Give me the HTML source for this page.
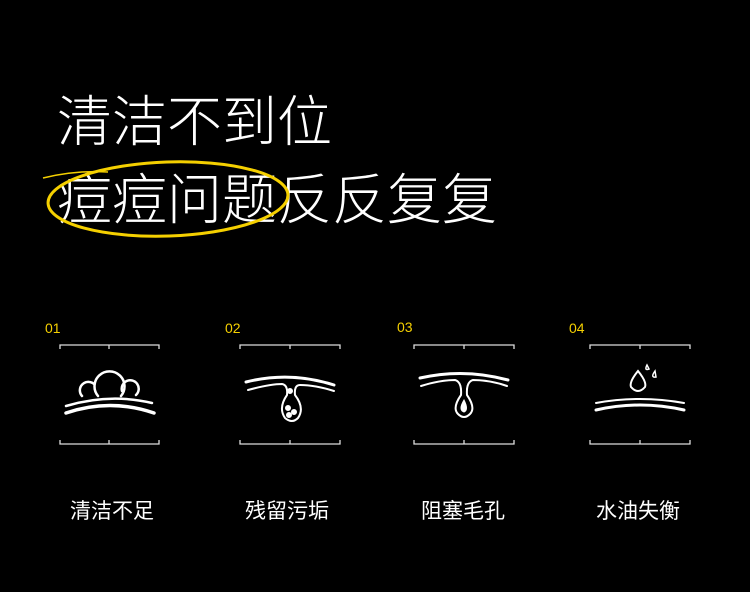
<!DOCTYPE html>
<html><head><meta charset="utf-8"><style>
body{margin:0;width:750px;height:592px;background:#000;overflow:hidden;font-family:"Liberation Sans","Noto Sans CJK SC",sans-serif;color:#fff}
.t{position:absolute;left:57px;font-size:55px;line-height:1;letter-spacing:0px;white-space:nowrap;font-weight:300}
.n{position:absolute;color:#f5d000;font-size:14px;font-family:"Liberation Sans",sans-serif}
.l{position:absolute;top:495px;font-size:21px;width:140px;text-align:center}
svg{position:absolute;left:0;top:0}
</style></head><body>
<div class="t" style="top:95px">清洁不到位</div>
<div class="t" style="top:173px">痘痘问题反反复复</div>
<svg width="750" height="592" fill="none" stroke="#fff">
<g stroke="#f5d000" stroke-width="3">
<ellipse cx="168" cy="199" rx="120" ry="37" transform="rotate(-2 168 199)"/>
<path d="M43 178 Q75 170 108 172" stroke-width="1.5"/>
</g>
<g stroke="#ddd" stroke-width="1.3">
<path d="M60 349V345H159V349M109 345V349M60 440V444H159V440M109 444V440"/>
<path d="M240 349V345H340V349M290 345V349M240 440V444H340V440M290 444V440"/>
<path d="M414 349V345H514V349M464 345V349M414 440V444H514V440M464 444V440"/>
<path d="M590 349V345H690V349M640 345V349M590 440V444H690V440M640 444V440"/>
</g>
<g stroke-width="3" stroke-linecap="round">
<path d="M66 413 Q110 398 154 413" stroke-width="3.5"/>
<path d="M66 406 Q110 393 152 403" stroke-width="2.5"/>
<path d="M98 396 A15 15 0 1 1 121 396" stroke-width="2.5"/>
<path d="M122 391 A8.5 8.5 0 1 1 136 395" stroke-width="2.5"/>
<path d="M82 396 A8.5 8.5 0 0 1 94 384" stroke-width="2.5"/>
<path d="M246 382 Q290 371 334 385"/>
<path d="M248 390 Q270 384 282 384 Q288 385 287 395 Q278 408 285 418 Q292 424 298 418 Q305 408 295 395 Q294 385 300 385 Q315 385 334 391" stroke-width="2"/>
<circle cx="290" cy="391" r="1.5" fill="#fff"/><circle cx="288" cy="408" r="1.5" fill="#fff"/><circle cx="294" cy="412" r="1.5" fill="#fff"/><circle cx="289" cy="415" r="1.5" fill="#fff"/>
<path d="M420 378 Q464 368 508 380"/>
<path d="M421 386 Q440 380 455 380 Q462 382 461 395 Q452 408 458 414 Q464 420 470 414 Q476 408 467 395 Q466 382 473 380 Q490 380 507 386" stroke-width="2"/>
<path d="M464 400 Q458 410 464 412 Q469 410 464 400Z" fill="#fff" stroke-width="1"/>
<path d="M596 403 Q640 395 684 403" stroke-width="2"/>
<path d="M596 410 Q640 400 684 410"/>
<path d="M638 371 Q629 382 631 387 Q638 395 645 387 Q647 382 638 371Z" stroke-width="2"/>
<path d="M647 365 Q644 371 649 369Z" stroke-width="1.5"/>
<path d="M655 371 Q650 378 656 377Z" stroke-width="1.5"/>
</g>
</svg>
<div class="n" style="left:45px;top:320px">01</div>
<div class="n" style="left:225px;top:320px">02</div>
<div class="n" style="left:397px;top:319px">03</div>
<div class="n" style="left:569px;top:320px">04</div>
<div class="l" style="left:42px">清洁不足</div>
<div class="l" style="left:217px">残留污垢</div>
<div class="l" style="left:393px">阻塞毛孔</div>
<div class="l" style="left:568px">水油失衡</div>
</body></html>
